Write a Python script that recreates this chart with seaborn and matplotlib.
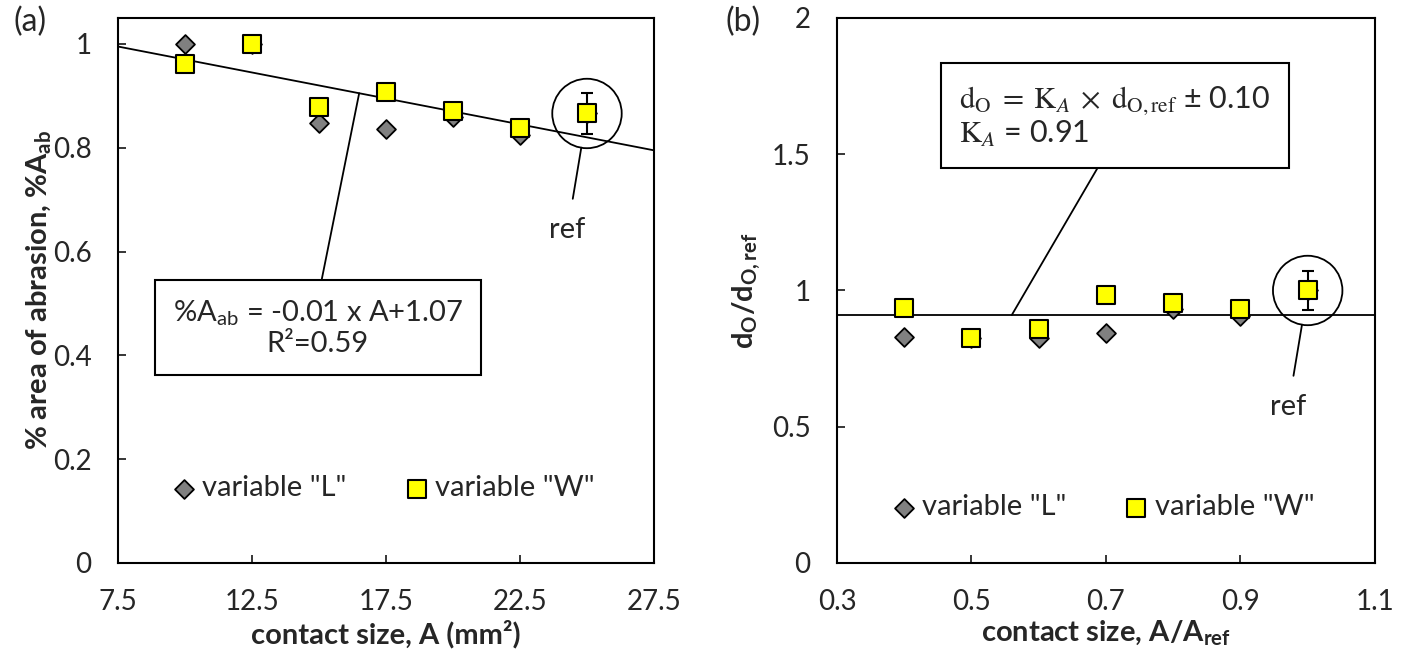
import matplotlib
matplotlib.use('agg')
from matplotlib import pyplot as plt
import seaborn as sns
import numpy as np

# (a) contact size A (mm2) vs % area of abrasion
area_mm2 = [10, 12.5, 15, 17.5, 20, 22.5, 25]
abr_L = [1.0, 1.0, 0.848, 0.836, 0.859, 0.825, 0.866]
abr_W = [0.961, 1.0, 0.878, 0.908, 0.871, 0.838, 0.866]
abr_ref_err = 0.04
trend_slope, trend_icpt = -0.01, 1.07

# (b) contact size A/Aref vs dO/dO,ref
area_rel = [0.4, 0.5, 0.6, 0.7, 0.8, 0.9, 1.0]
dia_L = [0.828, 0.827, 0.826, 0.843, 0.932, 0.906, 1.0]
dia_W = [0.935, 0.827, 0.860, 0.982, 0.955, 0.932, 1.0]
dia_ref_err = 0.073
k_a = 0.91

GREY = '#808080'
YELLOW = '#FFFF00'
FS_TICK = 20
FS = 21

sns.set_style('white')
plt.rcParams['font.family'] = ['Lato', 'DejaVu Sans']
plt.rcParams['mathtext.fontset'] = 'custom'
plt.rcParams['mathtext.rm'] = 'Lato'
plt.rcParams['mathtext.it'] = 'Lato:italic'
plt.rcParams['mathtext.bf'] = 'Lato:bold'


def style_axes(ax, xlim, ylim, xticks, yticks):
    ax.set_xlim(xlim)
    ax.set_ylim(ylim)
    ax.set_xticks(xticks)
    ax.set_yticks(yticks)
    ax.set_xticklabels(['%g' % t for t in xticks])
    ax.set_yticklabels(['%g' % t for t in yticks])
    for sp in ax.spines.values():
        sp.set_visible(True)
        sp.set_color('black')
        sp.set_linewidth(1.5)
    ax.tick_params(direction='in', length=6, width=1.3, labelsize=FS_TICK, pad=19,
                   bottom=True, left=True, top=False, right=False)


def draw_points(ax, x, yL, yW, x_ref, y_ref, err):
    sns.scatterplot(x=x, y=yL, marker='D', s=92, color=GREY, edgecolor='black',
                    linewidth=1.3, label='variable "L"', ax=ax, zorder=3)
    ax.errorbar([x_ref], [y_ref], yerr=err, fmt='none', ecolor='black',
                elinewidth=1.5, capsize=4.5, capthick=1.5, zorder=2)
    sns.scatterplot(x=x, y=yW, marker='s', s=175, color=YELLOW, edgecolor='black',
                    linewidth=1.5, label='variable "W"', ax=ax, zorder=4)
    # circle round the reference point
    ax.scatter([x_ref], [y_ref], s=2500, facecolors='none', edgecolors='black',
               linewidths=1.3, zorder=5)
    ax.annotate('ref', xy=(x_ref, y_ref), xytext=(-14, -84), textcoords='offset points',
                ha='center', va='center', fontsize=FS,
                arrowprops=dict(arrowstyle='-', color='black', lw=1.3,
                                shrinkA=11, shrinkB=25))


def draw_legend(ax, anchor):
    ax.legend(loc='center', bbox_to_anchor=anchor, ncol=2, frameon=False,
              fontsize=FS, handlelength=0.8, handletextpad=0.22, columnspacing=2.0,
              borderpad=0.2, markerscale=1.0)


fig = plt.figure(figsize=(14.01, 6.56), dpi=100)
ax1 = fig.add_axes([0.0842, 0.1418, 0.3826, 0.8308])
ax2 = fig.add_axes([0.5974, 0.1418, 0.384, 0.8308])

# panel (a)
style_axes(ax1, (7.5, 27.5), (0, 1.05), [7.5, 12.5, 17.5, 22.5, 27.5],
           [0, 0.2, 0.4, 0.6, 0.8, 1])
xs = np.array([7.5, 27.5])
ax1.plot(xs, trend_slope * xs + trend_icpt, color='black', lw=1.3, zorder=2)
draw_points(ax1, area_mm2, abr_L, abr_W, area_mm2[-1], abr_W[-1], abr_ref_err)
x_t = 16.5
ax1.annotate('%A$_{\\mathrm{ab}}$ = -0.01 x A+1.07\nR²=0.59',
             xy=(x_t, trend_slope * x_t + trend_icpt), xytext=(14.96, 0.453),
             ha='center', va='center', multialignment='center', fontsize=FS,
             linespacing=1.15,
             bbox=dict(boxstyle='square,pad=0.6', fc='white', ec='black', lw=1.5),
             arrowprops=dict(arrowstyle='-', color='black', lw=1.3,
                             relpos=(0.5, 1.0), shrinkA=0, shrinkB=0), zorder=6)
draw_legend(ax1, (0.495, 0.137))
ax1.set_xlabel('contact size, A (mm²)', fontsize=FS, fontweight='bold', labelpad=3)
ax1.set_ylabel('% area of abrasion, %A$_{\\mathbf{ab}}$', fontsize=FS,
               fontweight='bold', labelpad=0)

# panel (b)
style_axes(ax2, (0.3, 1.1), (0, 2), [0.3, 0.5, 0.7, 0.9, 1.1], [0, 0.5, 1, 1.5, 2])
ax2.axhline(k_a, color='black', lw=1.3, zorder=2)
draw_points(ax2, area_rel, dia_L, dia_W, area_rel[-1], dia_W[-1], dia_ref_err)
ax2.annotate('$\\mathrm{d_O}\\;=\\;\\mathrm{K}_{A}\\;\\times\\;\\mathrm{d_{O,ref}}$ ± 0.10\n'
             '$\\mathrm{K}_{A}$ = 0.91',
             xy=(0.56, k_a), xytext=(0.713, 1.638), math_fontfamily='stix',
             ha='center', va='center', multialignment='left', fontsize=22,
             linespacing=1.1,
             bbox=dict(boxstyle='square,pad=0.6', fc='white', ec='black', lw=1.5),
             arrowprops=dict(arrowstyle='-', color='black', lw=1.3,
                             relpos=(0.48, 0.0), shrinkA=0, shrinkB=0), zorder=6)
draw_legend(ax2, (0.495, 0.102))
ax2.set_xlabel('contact size, A/A$_{\\mathbf{ref}}$', fontsize=FS, fontweight='bold',
               labelpad=2)
ax2.set_ylabel('d$_{\\mathbf{O}}$/d$_{\\mathbf{O,ref}}$', fontsize=FS,
               fontweight='bold', labelpad=6)

fig.text(0.0093, 0.966, '(a)', fontsize=23, va='center')
fig.text(0.5175, 0.966, '(b)', fontsize=23, va='center')

fig.savefig('out.png', dpi=100)
plt.close(fig)
